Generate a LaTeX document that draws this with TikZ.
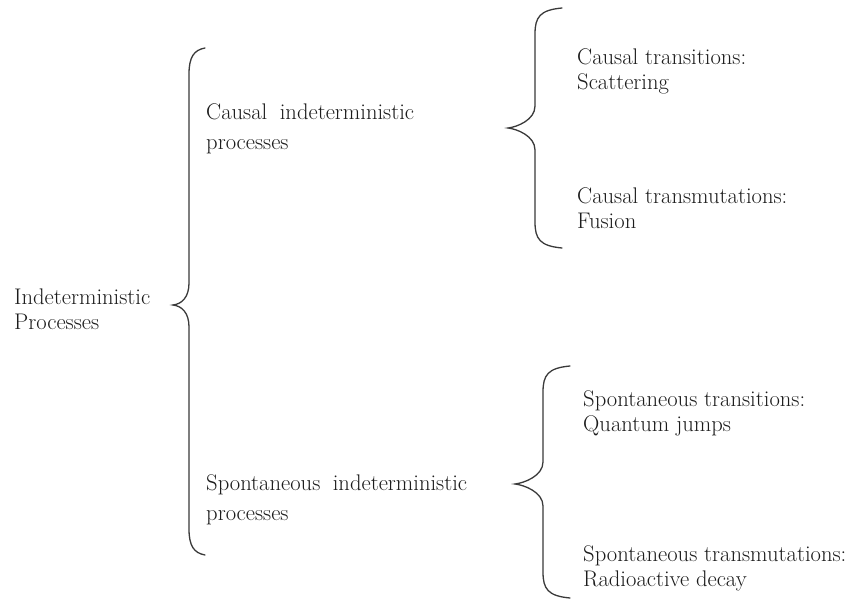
\documentclass[tikz,border=0pt]{standalone}
\usepackage{fontspec}
\definecolor{textc}{HTML}{1C1C1C}
\definecolor{bracec}{HTML}{3A3A3A}
\tikzset{
  txt/.style={font=\fontsize{22.6}{25}\selectfont, align=left, inner sep=0pt, text=textc, anchor=base west},
  midtxt/.style={txt, font=\fontsize{22.6}{30}\selectfont},
  bracestyle/.style={draw=bracec, line width=1.3pt, line cap=round}
}
% #1 line x, #2 top y, #3 end x, #4 tip y, #5 tip x, #6 bottom y
\newcommand{\mybrace}[6]{%
  \draw[bracestyle] (#3,#2) .. controls ({#1+5},{#2+2}) and (#1,{#2+9}) .. (#1,{#2+26})
    -- (#1,{#4-22}) .. controls (#1,{#4-8}) and ({#5+9},{#4-1}) .. (#5,#4)
    .. controls ({#5+9},{#4+1}) and (#1,{#4+8}) .. (#1,{#4+22})
    -- (#1,{#6-26}) .. controls (#1,{#6-9}) and ({#1+5},{#6-2}) .. (#3,#6);}
\begin{document}
\begin{tikzpicture}[x=1pt,y=-1pt]
\useasboundingbox[fill=white] (0,0) rectangle (848,601);

% anchors are the baselines of the last lines
\node[txt] (root) at (14,330) {Indeterministic\\Processes};
\node[midtxt] (causal) at (206,150) {Causal\hspace{0.25em} indeterministic\\processes};
\node[midtxt] (spont) at (206,520) {Spontaneous\hspace{0.25em} indeterministic\\processes};
\node[txt] (ct) at (577,90) {Causal transitions:\\Scattering};
\node[txt] (cm) at (577,229) {Causal transmutations:\\Fusion};
\node[txt] (st) at (583,431) {Spontaneous transitions:\\Quantum jumps};
\node[txt] (sm) at (583,586) {Spontaneous transmutations:\\Radioactive decay};

\mybrace{189}{48}{205}{305}{173}{555}
\mybrace{535}{8}{562}{128}{508}{248}
\mybrace{543}{366}{570}{484}{515}{598}
\end{tikzpicture}
\end{document}
